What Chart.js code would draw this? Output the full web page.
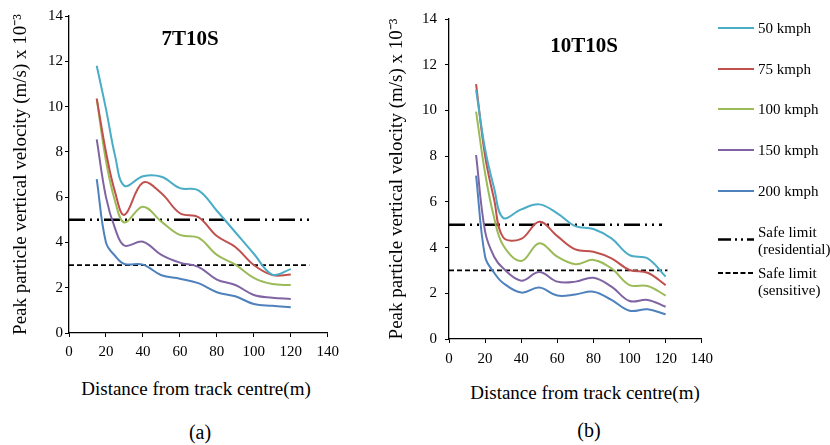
<!DOCTYPE html>
<html>
<head>
<meta charset="utf-8">
<script src="https://cdn.jsdelivr.net/npm/chart.js@4.4.0/dist/chart.umd.min.js"></script>
<style>
  body { margin: 0; background: #fff; font-family: "Liberation Serif", "Times New Roman", serif; }
  #page { position: relative; width: 830px; height: 445px; overflow: hidden; }
  .box { position: absolute; }
  .label { position: absolute; transform: translate(-50%, -50%); white-space: nowrap; line-height: 1; color: #000; }
  .title { font-weight: bold; font-size: 21px; }
  .axis { font-size: 19px; }
  .caption { font-size: 20px; }
  #legend { position: absolute; left: 718px; top: 0; font-size: 15px; color: #000; }
  .entry { position: absolute; left: 0; display: flex; align-items: flex-start; white-space: nowrap; line-height: 16.5px; }
  .entry svg { margin-right: 4px; flex: none; }
</style>
</head>
<body>
<div id="page">
  <div class="box" style="left:0;top:0;width:345px;height:370px;"><canvas id="chartA"></canvas></div>
  <div class="box" style="left:375px;top:0;width:345px;height:370px;"><canvas id="chartB"></canvas></div>

  <div class="label title" style="left:190px;top:38px;">7T10S</div>
  <div class="label title" style="left:584px;top:45px;">10T10S</div>
  <div class="label axis" style="left:196px;top:388px;">Distance from track centre(m)</div>
  <div class="label axis" style="left:585px;top:392px;">Distance from track centre(m)</div>
  <div class="label caption" style="left:200px;top:432px;">(a)</div>
  <div class="label caption" style="left:589px;top:430px;">(b)</div>

  <div id="legend"></div>
</div>

<script>
// distance from track centre (m)
const distances = [15, 20, 25, 30, 40, 50, 60, 70, 80, 90, 100, 110, 120];
const speedLabels = ['50 kmph', '75 kmph', '100 kmph', '150 kmph', '200 kmph'];
const speedColors = ['#4bacc6', '#c0504d', '#9bbb59', '#8064a2', '#4f81bd'];

// peak particle vertical velocity (m/s x 10^-3), 7T10S
const t7_50  = [11.8, 9.9, 7.8, 6.5, 6.92, 6.9, 6.4, 6.3, 5.4, 4.45, 3.5, 2.58, 2.82];
const t7_75  = [10.35, 8.0, 6.2, 5.22, 6.64, 6.17, 5.29, 5.12, 4.28, 3.8, 3.0, 2.56, 2.58];
const t7_100 = [10.35, 7.6, 5.8, 4.88, 5.58, 4.92, 4.33, 4.21, 3.45, 3.02, 2.43, 2.16, 2.12];
const t7_150 = [8.55, 6.0, 4.6, 3.86, 4.03, 3.45, 3.11, 2.92, 2.36, 2.12, 1.68, 1.56, 1.5];
const t7_200 = [6.8, 4.0, 3.4, 3.05, 3.02, 2.55, 2.4, 2.2, 1.8, 1.62, 1.28, 1.2, 1.14];

// 10T10S
const t10_50  = [10.9, 8.3, 6.6, 5.3, 5.67, 5.89, 5.5, 4.94, 4.81, 4.4, 3.67, 3.53, 2.73];
const t10_75  = [11.15, 8.0, 6.1, 4.45, 4.38, 5.13, 4.5, 3.92, 3.82, 3.53, 3.02, 2.9, 2.36];
const t10_100 = [9.95, 7.25, 5.3, 4.1, 3.41, 4.19, 3.6, 3.27, 3.46, 3.09, 2.36, 2.32, 1.9];
const t10_150 = [8.05, 4.7, 3.6, 3.09, 2.55, 2.93, 2.51, 2.51, 2.68, 2.29, 1.66, 1.71, 1.41];
const t10_200 = [7.15, 3.6, 2.9, 2.45, 2.03, 2.25, 1.9, 1.95, 2.07, 1.71, 1.24, 1.3, 1.08];

// safe limits and how far each line runs along the x axis
const residentialLimit = 5;
const sensitiveLimit = 3;
const limitSpanA = { residential: [0, 130], sensitive: [0, 130] };
const limitSpanB = { residential: [0, 118], sensitive: [0, 121] };

const xTicks = [0, 20, 40, 60, 80, 100, 120, 140];
const yTicks = [0, 2, 4, 6, 8, 10, 12, 14];

const residentialDash = [16, 5, 2, 5, 2, 5];
const sensitiveDash = [5, 3];
const FONT = '"Liberation Serif", "Times New Roman", serif';
const yTitle = 'Peak particle vertical velocity (m/s) x 10\u207B\u00B3';

Chart.defaults.font.family = FONT;
Chart.defaults.color = '#000';

function buildDatasets(series, span) {
    const sets = series.map((vals, i) => ({
        label: speedLabels[i],
        data: vals.map((v, k) => ({ x: distances[k], y: v })),
        borderColor: speedColors[i],
        borderWidth: 2,
        pointRadius: 0,
        tension: 0.38,
        fill: false
    }));
    sets.push({
        label: 'Safe limit (residential)',
        data: span.residential.map(x => ({ x: x, y: residentialLimit })),
        borderColor: '#000',
        borderWidth: 2.6,
        borderDash: residentialDash,
        pointRadius: 0
    });
    sets.push({
        label: 'Safe limit (sensitive)',
        data: span.sensitive.map(x => ({ x: x, y: sensitiveLimit })),
        borderColor: '#000',
        borderWidth: 1.8,
        borderDash: sensitiveDash,
        pointRadius: 0
    });
    return sets;
}

function makeChart(id, series, span, opts) {
    const ctx = document.getElementById(id).getContext('2d');
    return new Chart(ctx, {
        type: 'line',
        data: { datasets: buildDatasets(series, span) },
        options: {
            responsive: true,
            maintainAspectRatio: false,
            animation: false,
            layout: { padding: { top: opts.top, right: opts.right, left: 0, bottom: 0 } },
            plugins: { legend: { display: false }, tooltip: { enabled: false } },
            scales: {
                x: {
                    type: 'linear',
                    min: 0, max: 140,
                    afterBuildTicks: s => { s.ticks = xTicks.map(v => ({ value: v })); },
                    afterFit: s => { s.height = opts.xHeight; },
                    grid: { display: true, drawOnChartArea: false, drawTicks: true, tickLength: 4, color: '#000' },
                    border: { display: true, color: '#000', width: 1.3 },
                    ticks: { color: '#000', padding: opts.xTickPad, maxRotation: 0, font: { family: FONT, size: 15 } }
                },
                y: {
                    min: 0, max: 14,
                    afterBuildTicks: s => { s.ticks = yTicks.map(v => ({ value: v })); },
                    afterFit: s => { s.width = opts.yWidth; },
                    grid: { display: true, drawOnChartArea: false, drawTicks: true, tickLength: 4, color: '#000' },
                    border: { display: true, color: '#000', width: 1.3 },
                    ticks: { color: '#000', padding: opts.tickPad, font: { family: FONT, size: 15 } },
                    title: {
                        display: true,
                        text: yTitle,
                        color: '#000',
                        padding: { top: opts.titlePad, bottom: 0 },
                        font: { family: FONT, size: 19 }
                    }
                }
            }
        }
    });
}

makeChart('chartA', [t7_50, t7_75, t7_100, t7_150, t7_200], limitSpanA,
    { top: 16, right: 17, xHeight: 37, yWidth: 69, tickPad: 2, xTickPad: 6, titlePad: 10 });
makeChart('chartB', [t10_50, t10_75, t10_100, t10_150, t10_200], limitSpanB,
    { top: 19, right: 18, xHeight: 31, yWidth: 74, tickPad: 8, xTickPad: 7, titlePad: 11 });

// legend on the right
const legendRows = [
    { text: [speedLabels[0]], color: speedColors[0], top: 28 },
    { text: [speedLabels[1]], color: speedColors[1], top: 69 },
    { text: [speedLabels[2]], color: speedColors[2], top: 109 },
    { text: [speedLabels[3]], color: speedColors[3], top: 150 },
    { text: [speedLabels[4]], color: speedColors[4], top: 191 },
    { text: ['Safe limit', '(residential)'], color: '#000', dash: [13, 4, 2, 4, 2, 4], width: 2.6, top: 232, lineY: 15.5 },
    { text: ['Safe limit', '(sensitive)'], color: '#000', dash: [5, 2.5], width: 1.8, top: 273 }
];

const legend = document.getElementById('legend');
legendRows.forEach(row => {
    const el = document.createElement('div');
    el.className = 'entry';
    el.style.top = (row.top - 8) + 'px';
    const ly = row.lineY !== undefined ? row.lineY : 8;
    const dash = row.dash ? ` stroke-dasharray="${row.dash.join(' ')}"` : '';
    el.innerHTML =
        `<svg width="36" height="33"><line x1="0" x2="36" y1="${ly}" y2="${ly}" stroke="${row.color}" stroke-width="${row.width || 2}"${dash}/></svg>` +
        `<div>${row.text.join('<br>')}</div>`;
    legend.appendChild(el);
});
</script>
</body>
</html>
